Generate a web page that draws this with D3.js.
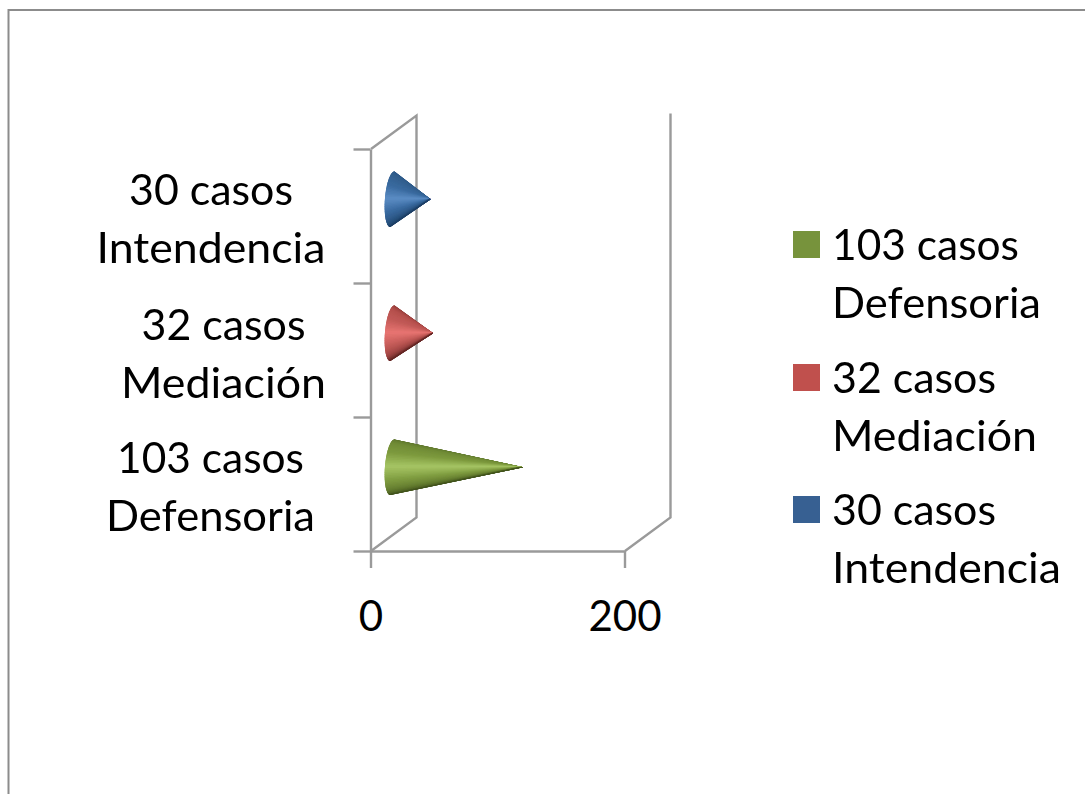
<!DOCTYPE html>
<html>
<head>
<meta charset="utf-8">
<script src="https://d3js.org/d3.v7.min.js"></script>
<style>
  html, body { margin: 0; padding: 0; background: #fff; }
  svg { display: block; }
  text { font-family: Lato, "Open Sans", sans-serif; fill: #000; }
</style>
</head>
<body>
<div id="chart"></div>
<script>
// Cases by office, bottom category first
const categories = ["Defensoria", "Mediación", "Intendencia"];
const caseCounts = [103, 32, 30];
const categoryLines = [["103 casos", "Defensoria"], ["32 casos", "Mediación"], ["30 casos", "Intendencia"]];
const axisTicks = [0, 200];
const coneRamps = [
  ["#566b28", "#6f8a35", "#7d9a3e", "#a6c564", "#7f9c40", "#627a2e", "#3f4f1c"],
  ["#8a3533", "#b44f4c", "#c25a57", "#e87572", "#c45b58", "#9c4442", "#5f2422"],
  ["#2a5585", "#33608f", "#396a9f", "#5b8cc4", "#3a6ba1", "#2b5583", "#1c3d63"]
];

const width = 1085, height = 794;
const svg = d3.select("#chart").append("svg").attr("width", width).attr("height", height);
const axisGrey = "#9a9a9a";

const defs = svg.append("defs");
defs.append("filter").attr("id", "soft").append("feGaussianBlur").attr("stdDeviation", 0.45);

// Outer chart border: only the top and left edges fall inside the page
svg.append("path").attr("d", "M8.5,794V10H1085").attr("fill", "none").attr("stroke", "#8c8c8c").attr("stroke-width", 2);

const plot = { left: 371, right: 625, top: 149, bottom: 551, dx: 45.5, dy: -33.5 };
const x = d3.scaleLinear().domain([0, 200]).range([plot.left, plot.right]);
const yBand = d3.scaleBand().domain(categories).range([plot.bottom, plot.top]);
const yTicks = d3.scaleLinear().domain([0, categories.length]).range([plot.bottom, plot.top]);

// Walls of the 3-D box
const walls = svg.append("g").attr("fill", "none").attr("stroke", axisGrey).attr("stroke-width", 2.4);
walls.append("path").attr("d",
  `M${plot.left},${plot.top}L${plot.left + plot.dx},${plot.top + plot.dy}V${plot.bottom + plot.dy}L${plot.left},${plot.bottom}`);
walls.append("path").attr("d",
  `M${plot.right},${plot.bottom}L${plot.right + plot.dx},${plot.bottom + plot.dy}V${plot.top + plot.dy - 2}`);

// Axes
const yAxis = svg.append("g").attr("transform", `translate(${plot.left - 0.5},0)`)
  .call(d3.axisLeft(yTicks).ticks(categories.length).tickSize(17).tickSizeOuter(0).tickFormat(""));
const xAxis = svg.append("g").attr("transform", `translate(-0.5,${plot.bottom})`)
  .call(d3.axisBottom(x).tickValues(axisTicks).tickSize(17).tickSizeOuter(0).tickFormat(d3.format("d")));
yAxis.selectAll("path,line").attr("stroke", axisGrey).attr("stroke-width", 2.4);
xAxis.selectAll("path,line").attr("stroke", axisGrey).attr("stroke-width", 2.4);
xAxis.selectAll("text").attr("dy", 0)
  .attr("font-family", "Lato").attr("font-size", 42).attr("fill", "#000").attr("text-anchor", "middle")
  .attr("y", 79.5);

// Cones, built as a fan of slices from the elliptical base to the tip
const baseX = x(0) + 21.5, baseRx = 7.6, baseRy = 27.8, baseTilt = 2.1;
const cones = svg.append("g").attr("filter", "url(#soft)");
categories.forEach((cat, i) => {
  const cy = yBand(cat) + yBand.bandwidth() / 2 + plot.dy / 2;
  const tipX = baseX + (x(caseCounts[i]) - x(0));
  const colour = d3.scaleLinear()
    .domain(d3.range(coneRamps[i].length).map(k => k / (coneRamps[i].length - 1)))
    .range(coneRamps[i]).interpolate(d3.interpolateRgb);
  const n = 48;
  // Rim point at parameter t (0 = top of the base, 1 = bottom), bulging left
  const rim = t => {
    const a = Math.PI * t;
    return [baseX - baseRx * Math.sin(a) + baseTilt * Math.cos(a), cy - baseRy * Math.cos(a)];
  };
  const outline = d3.range(n + 1).map(k => rim(k / n)).concat([[tipX, cy]]);
  defs.append("clipPath").attr("id", `cone-${i}`).append("path").attr("d", d3.line()(outline) + "Z");
  const cone = cones.append("g").attr("clip-path", `url(#cone-${i})`);
  d3.range(n).forEach(k => {
    const p0 = rim(k / n), p1 = rim((k + 1) / n), c = colour((k + 0.5) / n);
    cone.append("path")
      .attr("d", `M${p0[0]},${p0[1]}L${p1[0]},${p1[1]}L${tipX},${cy}Z`)
      .attr("fill", c).attr("stroke", c).attr("stroke-width", 1.6);
  });
});

// Text lines are fitted to a measured width per string
const lineWidths = {
  "103 casos": 187, "Defensoria": 209, "32 casos": 164,
  "Mediación": 205, "30 casos": 164, "Intendencia": 229
};
const labelFont = 42, lineStep = 58;
const fitted = (sel, line) => sel.attr("font-size", labelFont)
  .attr("textLength", lineWidths[line]).attr("lengthAdjust", "spacingAndGlyphs").text(line);

// Category labels beside the axis
const labelCentres = [210.5, 223.5, 211];
const labelBaselines = [472.5, 339.5, 204.5];
categoryLines.forEach((lines, i) => {
  lines.forEach((line, j) => {
    svg.append("text").attr("x", labelCentres[i]).attr("y", labelBaselines[i] + j * lineStep)
      .attr("text-anchor", "middle").call(fitted, line);
  });
});

// Legend, top to bottom in category order
const legendX = 793, legendSwatch = 27, legendTextX = 832;
const legendTops = [231, 364, 496];
const legendColours = ["#77933c", "#c0504d", "#376092"];
categoryLines.forEach((lines, i) => {
  svg.append("rect").attr("x", legendX).attr("y", legendTops[i])
    .attr("width", legendSwatch).attr("height", legendSwatch).attr("fill", legendColours[i]);
  lines.forEach((line, j) => {
    svg.append("text").attr("x", legendTextX).attr("y", legendTops[i] + 28.5 + j * lineStep)
      .call(fitted, line);
  });
});
</script>
</body>
</html>
